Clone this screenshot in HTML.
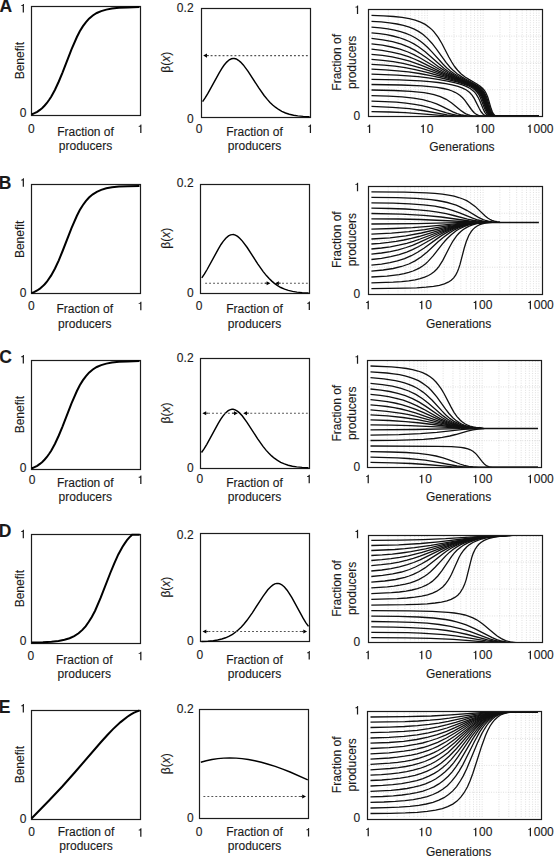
<!DOCTYPE html>
<html><head><meta charset="utf-8"><style>
html,body{margin:0;padding:0;background:#fff;}
svg{display:block;}
text{font-family:"Liberation Sans",sans-serif;fill:#1a1a1a;stroke:#1a1a1a;stroke-width:0.12px;}
</style></head><body>
<svg width="554" height="859" viewBox="0 0 554 859">
<text x="-0.5" y="12.3" font-size="17.5" font-weight="bold" fill="#000">A</text>
<rect x="31.5" y="6.5" width="109" height="109" fill="none" stroke="#1c1c1c" stroke-width="1.2"/>
<path d="M31.5,114.5L34.5,113.2L37.2,111.8L39.9,109.9L42.3,107.9L44.7,105.5L46.9,103L49,100L51.2,96.7L55,89.7L58.8,81.5L62.6,72.3L71.5,49.3L76.9,37L79.8,31.3L82.8,26.4L85.8,22.3L89,18.7L92.8,15.5L96.8,13L101.2,11.1L106.3,9.6L112,8.5L119,7.8L127.6,7.4L139.5,7.1" fill="none" stroke="#000" stroke-width="2"/>
<path d="M23.94,12.4L23.94,3.89L23.1,3.89L22.68,4.72L22.02,5.14L21.18,5.24L21.18,6.04L22.7,6.04L22.7,12.4Z" fill="#1a1a1a"/>
<text x="19.64" y="116.95" font-size="12">0</text>
<text x="28.04" y="132.7" font-size="12">0</text>
<path d="M141.44,133.1L141.44,124.59L140.6,124.59L140.18,125.42L139.52,125.84L138.68,125.94L138.68,126.74L140.2,126.74L140.2,133.1Z" fill="#1a1a1a"/>
<text transform="translate(23.8,60.7) rotate(-90)" font-size="12" text-anchor="middle">Benefit</text>
<text x="85.5" y="136.1" font-size="12" text-anchor="middle">Fraction of</text>
<text x="85.5" y="150.2" font-size="12" text-anchor="middle">producers</text>
<rect x="201.5" y="8.5" width="109" height="109" fill="none" stroke="#1c1c1c" stroke-width="1.2"/>
<path d="M202.6,101.6L205.3,97.7L207.9,93.4L219.2,72.8L221.9,68.4L224,65.3L226.7,62.1L229.3,59.8L231.5,58.8L233.1,58.5L234.2,58.5L236.3,59L238.4,60.3L240.6,62.1L243.3,64.9L248.1,71.4L258.8,87.9L264.1,95.5L267.3,99.4L270,102.4L272.7,105L275.4,107.2L278.6,109.5L281.8,111.3L285.5,113L289.3,114.2L293.6,115.2L297.8,115.9L303.2,116.4L309.6,116.7" fill="none" stroke="#000" stroke-width="1.45"/>
<path d="M307.8,55.6H209" stroke="#555" stroke-width="1.15" stroke-dasharray="1.9,2.07"/>
<path d="M203.2,55.6L207,53.55L207,57.65Z" fill="#000"/><path d="M206.62,55.6H208.8" stroke="#333" stroke-width="1.1"/>
<text x="176.87" y="11.8" font-size="12">0</text><text x="183.54" y="11.8" font-size="12">.</text><text x="186.88" y="11.8" font-size="12">2</text>
<text x="187.09" y="122.65" font-size="12">0</text>
<text x="195.74" y="132.65" font-size="12">0</text>
<path d="M311.04,133.05L311.04,124.54L310.2,124.54L309.78,125.37L309.12,125.79L308.28,125.89L308.28,126.69L309.8,126.69L309.8,133.05Z" fill="#1a1a1a"/>
<text transform="translate(170.3,62.2) rotate(-90)" font-size="12" text-anchor="middle">β(<tspan font-style="italic">x</tspan>)</text>
<text x="254.5" y="136.1" font-size="12" text-anchor="middle">Fraction of</text>
<text x="254.5" y="150.2" font-size="12" text-anchor="middle">producers</text>
<path d="M388.31,10.3V115.5M398.14,10.3V115.5M405.11,10.3V115.5M410.52,10.3V115.5M414.94,10.3V115.5M418.68,10.3V115.5M421.92,10.3V115.5M424.78,10.3V115.5M427.33,10.3V115.5M444.14,10.3V115.5M453.97,10.3V115.5M460.94,10.3V115.5M466.35,10.3V115.5M470.77,10.3V115.5M474.51,10.3V115.5M477.75,10.3V115.5M480.61,10.3V115.5M483.16,10.3V115.5M499.97,10.3V115.5M509.8,10.3V115.5M516.77,10.3V115.5M522.18,10.3V115.5M526.6,10.3V115.5M530.34,10.3V115.5M533.58,10.3V115.5M536.44,10.3V115.5M538.99,10.3V115.5M369.7,89.7H541.9M369.7,62.9H541.9M369.7,36.1H541.9" stroke="#cfcfcf" stroke-width="0.7" stroke-dasharray="0.9,1.5" fill="none"/>
<clipPath id="c3A"><rect x="369.1" y="10.1" width="172.8" height="105.8"/></clipPath><g clip-path="url(#c3A)">
<path d="M371.5,111.6L389.6,112L405.1,112.7L418.5,113.6L443.7,115.6L457.1,116.3L472.7,116.5L539,116.5" fill="none" stroke="#111" stroke-width="1.3"/>
<path d="M371.5,106.4L392.5,107.3L409.3,108.7L422.7,110.5L447.1,114.8L453.4,115.6L459.2,116.1L473.9,116.5L539,116.5" fill="none" stroke="#111" stroke-width="1.3"/>
<path d="M371.5,101.1L384.9,101.6L396.3,102.2L405.9,103.2L414.7,104.4L421.9,105.7L428.6,107.3L446.6,112.8L451.7,114.2L457.1,115.3L462.6,116L468.5,116.3L476,116.5L539,116.5" fill="none" stroke="#111" stroke-width="1.3"/>
<path d="M371.5,95.6L388.7,96.1L402.1,96.9L413.5,98.1L422.7,99.7L429.8,101.5L436.6,103.9L442,106.3L452.9,111.8L457.1,113.6L461.8,115L466.8,115.9L471.8,116.3L478.5,116.5L539,116.5" fill="none" stroke="#111" stroke-width="1.3"/>
<path d="M371.5,90L394.2,90.5L411,91.3L424,92.7L429.4,93.6L434,94.6L440.3,96.6L446.2,99.3L451.7,102.9L460.5,110.2L463.9,112.6L465.9,113.8L468,114.7L470.1,115.4L472.7,115.9L476.9,116.3L482.7,116.5L539,116.5" fill="none" stroke="#111" stroke-width="1.3"/>
<path d="M371.5,84.5L401.3,85L421.9,85.9L429.8,86.6L437,87.4L443.3,88.5L448.3,89.7L452.1,91L455,92.3L457.6,93.7L460.1,95.5L462.6,97.7L464.7,100.1L471.4,109.5L473.9,112.5L475.2,113.6L476.9,114.7L478.5,115.4L480.6,116L483.6,116.3L488.2,116.5L539,116.5" fill="none" stroke="#111" stroke-width="1.3"/>
<path d="M371.5,79.3L399.2,79.8L420.6,80.8L429.8,81.6L438.2,82.5L445.8,83.6L452.1,84.8L458,86.4L462.6,88.1L466.4,90L469.7,92.6L472.2,95.4L474.3,98.6L479.4,108.8L481.1,111.8L483.2,114.2L484.4,115.1L485.7,115.7L488.2,116.3L492.4,116.5L539,116.5" fill="none" stroke="#111" stroke-width="1.3"/>
<path d="M371.5,74.2L397.1,75.1L408,75.8L418.1,76.7L428.2,77.9L437.8,79.4L447.5,81.1L455.5,82.9L461.8,84.7L466.8,86.7L470.6,88.7L473.9,91.4L476,93.9L478.1,97.3L479.8,100.8L483.2,109.1L484.8,112.3L486.5,114.4L488.6,115.7L490.7,116.3L494.5,116.5L539,116.5" fill="none" stroke="#111" stroke-width="1.3"/>
<path d="M371.5,69.2L385.4,69.8L397.5,70.8L408.4,71.9L419.4,73.5L431.9,75.9L445.8,79L458,82.2L465.9,84.8L469.7,86.5L472.7,88.2L475.2,90.2L477.3,92.5L479,94.9L480.6,98.2L484.8,109L486.5,112.4L487.4,113.7L488.6,114.9L490.7,116L492.8,116.3L496.2,116.5L539,116.5" fill="none" stroke="#111" stroke-width="1.3"/>
<path d="M371.5,64.3L384.1,65.1L395,66.2L405.1,67.7L415.2,69.6L426.9,72.4L442,76.5L459.7,81.8L468,84.8L471.4,86.4L474.3,88.3L476.4,90L478.5,92.3L480.2,94.9L481.9,98.3L485.7,108.5L487.4,112.3L489,114.5L490.3,115.5L491.6,116L493.7,116.4L497,116.5L539,116.5" fill="none" stroke="#111" stroke-width="1.3"/>
<path d="M371.5,59.3L382.8,60.3L393.3,61.7L403,63.4L412.2,65.6L420.2,67.8L429,70.7L462.6,82.1L470.1,85.1L473.5,86.9L476,88.7L478.1,90.7L479.8,92.8L481.5,95.6L482.7,98.3L486.5,108.9L487.8,111.8L488.6,113.3L489.9,114.7L490.7,115.4L492,116L494.1,116.4L497.4,116.5L539,116.5" fill="none" stroke="#111" stroke-width="1.3"/>
<path d="M371.5,54.3L382.4,55.4L392.1,56.9L400.9,58.8L409.7,61.2L421.5,65.4L444.1,74.7L465.5,82.7L471.8,85.4L474.8,87.1L476.9,88.7L479,90.7L480.6,92.9L482.3,95.9L483.6,98.8L486.9,108.5L488.2,111.6L489,113.1L490.3,114.7L491.1,115.3L492.4,115.9L494.5,116.4L497.9,116.5L539,116.5" fill="none" stroke="#111" stroke-width="1.3"/>
<path d="M371.5,49.2L382,50.4L391.6,52.1L400.5,54.2L408.4,56.7L414.3,59L420.2,61.6L439.1,71.1L446.6,74.6L454.2,77.8L467.6,83L473.1,85.6L476,87.4L478.1,89.2L479.8,90.9L481.5,93.3L482.7,95.6L484,98.5L487.4,108.3L488.6,111.5L490.3,114.2L491.1,115.1L492.4,115.8L494.5,116.3L497.9,116.5L539,116.5" fill="none" stroke="#111" stroke-width="1.3"/>
<path d="M371.5,43.9L382.4,45.2L391.6,47L400,49.2L408,52L413.9,54.6L419.8,57.7L439.1,69.3L447.1,73.7L455.5,77.6L469.7,83.5L474.3,85.9L476.4,87.2L478.5,88.9L480.2,90.7L481.9,93L483.2,95.3L484.4,98.2L487.8,108.2L489,111.5L490.7,114.3L491.6,115.1L492.8,115.8L494.9,116.3L497.9,116.5L539,116.5" fill="none" stroke="#111" stroke-width="1.3"/>
<path d="M371.5,38.4L382.8,39.8L392.5,41.7L401.3,44.2L409.3,47.4L415.2,50.4L421,54L426.5,57.8L439.5,67.4L447.9,72.8L455.5,76.8L470.6,83.5L475.6,86.2L477.7,87.6L479.8,89.5L481.5,91.5L482.7,93.5L484,95.9L485.3,99.1L488.2,108.1L489.5,111.4L491.1,114.3L492.8,115.6L494.9,116.3L497.9,116.5L539,116.5" fill="none" stroke="#111" stroke-width="1.3"/>
<path d="M371.5,32.8L379.5,33.7L386.6,34.7L392.9,36L398.8,37.5L404.2,39.3L409.3,41.5L413.9,43.9L418.5,46.8L425.2,51.8L440.8,65.6L444.5,68.7L448.3,71.5L452.9,74.4L457.6,77L473.9,84.7L476.9,86.5L479.4,88.4L481.9,91.2L484,94.7L485.7,98.7L488.6,108L489.9,111.4L491.6,114.3L493.2,115.7L495.3,116.3L498.3,116.5L539,116.5" fill="none" stroke="#111" stroke-width="1.3"/>
<path d="M371.5,27.1L380.3,27.9L387.9,28.9L394.6,30.1L400.5,31.6L405.9,33.4L411,35.5L415.6,38L419.8,40.7L423.6,43.7L427.7,47.5L431.9,51.9L442.9,64L446.6,67.7L450.4,70.9L454.6,74L459.2,76.8L475.6,85.1L478.5,87.1L480.6,88.9L483.2,92L485.3,96L486.9,100.6L489.5,108.8L490.7,112.1L492,114.2L493.7,115.6L495.8,116.3L498.7,116.5L539,116.5" fill="none" stroke="#111" stroke-width="1.3"/>
<path d="M371.5,21.3L381.2,21.9L389.6,22.8L397.1,24L403.4,25.3L409.3,27.1L414.3,29.1L418.9,31.6L423.1,34.5L427.7,38.6L431.9,43.2L436.1,48.6L446.2,62.7L450,67.2L453.4,70.6L457.1,73.8L461.8,76.9L465.9,79.3L474.3,83.7L477.7,85.7L480.2,87.6L482.3,89.6L484.4,92.6L486.1,96.1L487.4,99.5L490.3,109.3L491.6,112.4L492.8,114.5L494.1,115.5L496.2,116.3L499.1,116.5L539,116.5" fill="none" stroke="#111" stroke-width="1.3"/>
<path d="M371.5,15.3L383.7,15.8L393.7,16.5L402.1,17.4L409.3,18.6L415.2,20.1L420.6,22.1L425.2,24.4L429.4,27.4L431.9,29.6L434,31.9L438.2,37.4L442,43.7L448.7,56.7L451.7,62L454.6,66.5L457.6,70.2L460.9,73.7L465.1,77L468.9,79.4L476.9,84L480.2,86.2L482.7,88.5L484.4,90.5L486.1,93.2L487.8,97.2L491.1,108.6L492.4,112.1L493.7,114.3L494.9,115.5L497,116.3L500,116.5L539,116.5" fill="none" stroke="#111" stroke-width="1.3"/>
</g>
<rect x="368.5" y="9.5" width="174" height="107" fill="none" stroke="#1c1c1c" stroke-width="1.2"/>
<path d="M358.14,13.95L358.14,5.44L357.3,5.44L356.88,6.27L356.22,6.69L355.38,6.79L355.38,7.59L356.9,7.59L356.9,13.95Z" fill="#1a1a1a"/>
<text x="353.54" y="119.7" font-size="12">0</text>
<path d="M370.19,133.05L370.19,124.54L369.35,124.54L368.93,125.37L368.27,125.79L367.43,125.89L367.43,126.69L368.95,126.69L368.95,133.05Z" fill="#1a1a1a"/>
<path d="M423.87,133.05L423.87,124.54L423.03,124.54L422.61,125.37L421.95,125.79L421.11,125.89L421.11,126.69L422.64,126.69L422.64,133.05Z" fill="#1a1a1a"/><text x="426.65" y="133.05" font-size="12">0</text>
<path d="M478.54,133.05L478.54,124.54L477.7,124.54L477.28,125.37L476.62,125.79L475.78,125.89L475.78,126.69L477.3,126.69L477.3,133.05Z" fill="#1a1a1a"/><text x="481.31" y="133.05" font-size="12">0</text><text x="487.98" y="133.05" font-size="12">0</text>
<path d="M530.7,133.05L530.7,124.54L529.86,124.54L529.44,125.37L528.78,125.79L527.94,125.89L527.94,126.69L529.47,126.69L529.47,133.05Z" fill="#1a1a1a"/><text x="533.47" y="133.05" font-size="12">0</text><text x="540.15" y="133.05" font-size="12">0</text><text x="546.82" y="133.05" font-size="12">0</text>
<text transform="translate(341.2,62.3) rotate(-90)" font-size="12" text-anchor="middle">Fraction of</text>
<text transform="translate(355.5,62.3) rotate(-90)" font-size="12" text-anchor="middle">producers</text>
<text x="461.9" y="151.2" font-size="12" text-anchor="middle">Generations</text>
<text x="-1.2" y="188.7" font-size="17.5" font-weight="bold" fill="#000">B</text>
<rect x="31.5" y="184.5" width="109" height="109" fill="none" stroke="#1c1c1c" stroke-width="1.2"/>
<path d="M31.5,293.2L34.5,291.9L37.2,290.5L39.9,288.7L42.3,286.6L44.7,284.2L46.9,281.7L51.2,275.4L55,268.5L58.8,260.3L62.6,251L71.5,228.1L76.9,215.8L79.8,210.1L82.8,205.2L85.8,201.1L89,197.5L92.8,194.3L96.8,191.8L101.2,189.9L106.3,188.3L112,187.3L119,186.6L127.6,186.2L139.5,185.9" fill="none" stroke="#000" stroke-width="2"/>
<path d="M23.94,186.8L23.94,178.29L23.1,178.29L22.68,179.12L22.02,179.54L21.18,179.64L21.18,180.44L22.7,180.44L22.7,186.8Z" fill="#1a1a1a"/>
<text x="19.64" y="297.3" font-size="12">0</text>
<text x="28.04" y="309.8" font-size="12">0</text>
<path d="M141.44,310.2L141.44,301.69L140.6,301.69L140.18,302.52L139.52,302.94L138.68,303.04L138.68,303.84L140.2,303.84L140.2,310.2Z" fill="#1a1a1a"/>
<text transform="translate(23.8,239.45) rotate(-90)" font-size="12" text-anchor="middle">Benefit</text>
<text x="84.8" y="313.4" font-size="12" text-anchor="middle">Fraction of</text>
<text x="84.8" y="327.5" font-size="12" text-anchor="middle">producers</text>
<rect x="200.5" y="184.5" width="109" height="109" fill="none" stroke="#1c1c1c" stroke-width="1.2"/>
<path d="M201.8,277.8L204.5,273.9L207.1,269.5L218.4,248.9L221,244.5L223.2,241.4L225.8,238.2L228.5,235.9L230.6,234.9L232.2,234.6L233.3,234.5L235.4,235.1L237.6,236.4L239.7,238.2L242.4,241.1L247.2,247.5L257.9,264.1L263.2,271.6L266.4,275.6L269.1,278.5L271.8,281.1L274.4,283.4L277.6,285.6L280.8,287.5L284.6,289.1L288.3,290.4L292.6,291.4L296.9,292.1L302.2,292.6L308.6,292.9" fill="none" stroke="#000" stroke-width="1.45"/>
<path d="M266.6,283.2H203" stroke="#555" stroke-width="1.15" stroke-dasharray="1.9,2.07"/>
<path d="M307.8,283.2H279.5" stroke="#555" stroke-width="1.15" stroke-dasharray="1.9,2.07"/>
<path d="M270.4,283.2L266.6,281.15L266.6,285.25Z" fill="#000"/><path d="M266.98,283.2H264.8" stroke="#333" stroke-width="1.1"/>
<path d="M275.1,283.2L278.9,281.15L278.9,285.25Z" fill="#000"/><path d="M278.52,283.2H280.7" stroke="#333" stroke-width="1.1"/>
<text x="176.87" y="187.2" font-size="12">0</text><text x="183.54" y="187.2" font-size="12">.</text><text x="186.88" y="187.2" font-size="12">2</text>
<text x="187.09" y="296.7" font-size="12">0</text>
<text x="195.74" y="309.65" font-size="12">0</text>
<path d="M309.94,310.05L309.94,301.54L309.1,301.54L308.68,302.37L308.02,302.79L307.18,302.89L307.18,303.69L308.7,303.69L308.7,310.05Z" fill="#1a1a1a"/>
<text transform="translate(170.3,238.3) rotate(-90)" font-size="12" text-anchor="middle">β(<tspan font-style="italic">x</tspan>)</text>
<text x="254.5" y="313.4" font-size="12" text-anchor="middle">Fraction of</text>
<text x="254.5" y="327.5" font-size="12" text-anchor="middle">producers</text>
<path d="M388.21,187.3V293.2M398.04,187.3V293.2M405.01,187.3V293.2M410.42,187.3V293.2M414.84,187.3V293.2M418.58,187.3V293.2M421.82,187.3V293.2M424.68,187.3V293.2M427.23,187.3V293.2M444.04,187.3V293.2M453.87,187.3V293.2M460.84,187.3V293.2M466.25,187.3V293.2M470.67,187.3V293.2M474.41,187.3V293.2M477.65,187.3V293.2M480.51,187.3V293.2M483.06,187.3V293.2M499.87,187.3V293.2M509.7,187.3V293.2M516.67,187.3V293.2M522.08,187.3V293.2M526.5,187.3V293.2M530.24,187.3V293.2M533.48,187.3V293.2M536.34,187.3V293.2M538.89,187.3V293.2M369.6,267.23H541.5M369.6,240.25H541.5M369.6,213.28H541.5" stroke="#cfcfcf" stroke-width="0.7" stroke-dasharray="0.9,1.5" fill="none"/>
<clipPath id="c3B"><rect x="369.1" y="187.1" width="172.8" height="106.8"/></clipPath><g clip-path="url(#c3B)">
<path d="M371.4,288.7L405.4,288.2L416.7,287.8L426,287.2L433.5,286.3L439.4,285.3L444.4,283.9L448.2,282.2L451.2,280.3L453.7,277.9L455.8,274.9L457.5,271.6L458.7,268.4L460,264.4L464.2,248.3L466.3,241.5L468.8,235.5L471.3,231.4L473,229.4L475.1,227.4L477.2,226L479.7,224.7L482.2,223.8L485.2,223.1L492.3,222.4" fill="none" stroke="#111" stroke-width="1.3"/>
<path d="M371.4,282.9L393.2,282.2L401.6,281.6L408.8,280.8L415.1,279.8L420.1,278.7L424.7,277.2L428.5,275.5L431.4,273.8L434.4,271.5L436.9,269L439,266.4L442.8,260.4L449.5,247.2L452.8,241.3L456.6,235.9L458.7,233.5L460.8,231.5L463.3,229.5L466.3,227.6L469.2,226.1L472.6,224.8L475.9,223.9L479.7,223.2L483.9,222.7L488.5,222.4" fill="none" stroke="#111" stroke-width="1.3"/>
<path d="M371.4,277L386.9,276.1L399.1,274.6L404.1,273.6L408.8,272.4L413,271L416.7,269.4L419.7,267.9L422.6,266L425.6,263.7L428.1,261.4L433.1,255.9L442.3,244.1L446.5,239.3L451.2,234.7L456.2,230.8L459.1,229L462.5,227.3L465.8,225.9L469.6,224.7L473.4,223.8L477.6,223.1L486.8,222.4" fill="none" stroke="#111" stroke-width="1.3"/>
<path d="M371.4,271.1L383.2,270L393.2,268.5L401.6,266.5L408.8,264L415.1,260.9L421.4,256.7L427.2,251.9L438.1,241.8L443.2,237.4L449.1,233.1L454.5,229.8L457.9,228.1L461.7,226.6L468.8,224.4L476.8,223L486,222.4" fill="none" stroke="#111" stroke-width="1.3"/>
<path d="M371.4,265.2L381.5,264.1L389.9,262.7L397.4,260.9L404.6,258.6L411.3,255.7L417.6,252.3L423.9,248.2L436.5,239.1L441.9,235.4L447.8,231.9L453.7,229L460.8,226.2L468.4,224.2L476.3,223L485.2,222.4" fill="none" stroke="#111" stroke-width="1.3"/>
<path d="M371.4,259.5L381.5,258.3L390.7,256.7L399.1,254.6L406.7,252.1L412.5,249.6L418.8,246.5L437.7,235.8L444.4,232.2L451.2,229.1L457.5,226.8L463.8,225L470,223.7L476.8,222.9L484.7,222.4" fill="none" stroke="#111" stroke-width="1.3"/>
<path d="M371.4,254.2L381.5,253L390.3,251.6L398.3,249.8L406.2,247.5L412.5,245.3L418.8,242.7L438.6,233.5L445.3,230.6L451.6,228.2L457.9,226.2L463.8,224.7L470,223.6L476.8,222.8L483.9,222.4" fill="none" stroke="#111" stroke-width="1.3"/>
<path d="M371.4,249L381.5,248L390.3,246.8L398.7,245.2L406.7,243.3L413.4,241.3L420.1,239L446.5,229.1L452.8,227.1L459.1,225.4L465,224.2L470.9,223.3L476.8,222.7L483.5,222.4" fill="none" stroke="#111" stroke-width="1.3"/>
<path d="M371.4,244L380.2,243.3L388.6,242.4L396.2,241.4L403.7,240L411.3,238.4L418.8,236.5L445.7,228.4L456.6,225.5L462.9,224.3L469.2,223.4L475.5,222.8L482.6,222.4" fill="none" stroke="#111" stroke-width="1.3"/>
<path d="M371.4,239L389.9,237.8L405.8,235.9L421.4,233L447.4,226.9L457.9,224.8L469.6,223.2L481.8,222.4" fill="none" stroke="#111" stroke-width="1.3"/>
<path d="M371.4,234.1L391.5,233.2L408.8,231.7L424.7,229.6L449.9,225.4L459.1,224.1L469.6,223L480.5,222.4" fill="none" stroke="#111" stroke-width="1.3"/>
<path d="M371.4,229.1L393.6,228.5L412.5,227.6L428.5,226.4L460,223.4L468.8,222.7L477.6,222.4" fill="none" stroke="#111" stroke-width="1.3"/>
<path d="M371.4,224L416.7,223.6L467.1,222.4" fill="none" stroke="#111" stroke-width="1.3"/>
<path d="M371.4,218.8L398.7,219L420.1,219.5L475.1,222" fill="none" stroke="#111" stroke-width="1.3"/>
<path d="M371.4,213.5L401.6,214.1L423.9,215.3L441.1,217L469.6,221L476.3,221.6L483.5,222" fill="none" stroke="#111" stroke-width="1.3"/>
<path d="M371.4,208.2L390.3,208.5L405.4,209L418,209.8L428.9,210.9L437.7,212.1L446.1,213.7L453.7,215.5L467.5,219.1L473.8,220.5L480.5,221.5L487.7,222" fill="none" stroke="#111" stroke-width="1.3"/>
<path d="M371.4,202.8L393.2,203.1L410,203.8L423.5,204.8L434.8,206.2L444,208L452.4,210.4L459.6,212.9L472.6,218.2L478,220L484.3,221.3L491.5,222" fill="none" stroke="#111" stroke-width="1.3"/>
<path d="M371.4,197.3L397.4,197.7L416.3,198.4L431,199.7L437.3,200.5L442.8,201.5L447.4,202.5L452,203.8L456.2,205.2L460,206.8L466.7,210.3L478.4,217.4L483.1,219.6L485.6,220.5L488.5,221.2L491.5,221.7L495.2,222" fill="none" stroke="#111" stroke-width="1.3"/>
<path d="M371.4,191.8L404.6,192.2L426.4,192.9L434.8,193.4L442.3,194.2L448.6,195.1L454.1,196.2L458.7,197.5L462.9,199L466.7,200.7L470,202.7L475.1,206.4L485.2,215.9L487.7,218L489.8,219.3L491.9,220.4L494.4,221.2L496.9,221.7L499.9,222" fill="none" stroke="#111" stroke-width="1.3"/>
<path d="M467.11,222.5H538.89" stroke="#111" stroke-width="1.3"/>
</g>
<rect x="368.5" y="186.5" width="174" height="108" fill="none" stroke="#1c1c1c" stroke-width="1.2"/>
<path d="M358.14,191.15L358.14,182.64L357.3,182.64L356.88,183.47L356.22,183.89L355.38,183.99L355.38,184.79L356.9,184.79L356.9,191.15Z" fill="#1a1a1a"/>
<text x="353.54" y="298.3" font-size="12">0</text>
<path d="M368.84,309.3L368.84,300.79L368,300.79L367.58,301.62L366.92,302.04L366.08,302.14L366.08,302.94L367.6,302.94L367.6,309.3Z" fill="#1a1a1a"/>
<path d="M422.37,309.3L422.37,300.79L421.53,300.79L421.11,301.62L420.45,302.04L419.61,302.14L419.61,302.94L421.14,302.94L421.14,309.3Z" fill="#1a1a1a"/><text x="425.15" y="309.3" font-size="12">0</text>
<path d="M476.34,309.3L476.34,300.79L475.5,300.79L475.08,301.62L474.42,302.04L473.58,302.14L473.58,302.94L475.1,302.94L475.1,309.3Z" fill="#1a1a1a"/><text x="479.11" y="309.3" font-size="12">0</text><text x="485.78" y="309.3" font-size="12">0</text>
<path d="M531,309.3L531,300.79L530.16,300.79L529.74,301.62L529.08,302.04L528.24,302.14L528.24,302.94L529.77,302.94L529.77,309.3Z" fill="#1a1a1a"/><text x="533.77" y="309.3" font-size="12">0</text><text x="540.45" y="309.3" font-size="12">0</text><text x="547.12" y="309.3" font-size="12">0</text>
<text transform="translate(341.2,239.65) rotate(-90)" font-size="12" text-anchor="middle">Fraction of</text>
<text transform="translate(355.5,239.65) rotate(-90)" font-size="12" text-anchor="middle">producers</text>
<text x="458.6" y="328" font-size="12" text-anchor="middle">Generations</text>
<text x="-0.7" y="362.6" font-size="17.5" font-weight="bold" fill="#000">C</text>
<rect x="31.5" y="360.5" width="109" height="109" fill="none" stroke="#1c1c1c" stroke-width="1.2"/>
<path d="M31.5,468.5L34.5,467.2L37.2,465.8L39.9,463.9L42.3,461.9L44.7,459.5L46.9,457L49,454L51.2,450.7L55,443.7L58.8,435.5L62.6,426.3L71.5,403.3L76.9,391L79.8,385.3L82.8,380.4L85.8,376.3L89,372.7L92.8,369.5L96.8,367L101.2,365.1L106.3,363.6L112,362.5L119,361.8L127.6,361.4L139.5,361.1" fill="none" stroke="#000" stroke-width="2"/>
<path d="M23.94,363.5L23.94,354.99L23.1,354.99L22.68,355.82L22.02,356.24L21.18,356.34L21.18,357.14L22.7,357.14L22.7,363.5Z" fill="#1a1a1a"/>
<text x="19.64" y="471.8" font-size="12">0</text>
<text x="28.74" y="483.6" font-size="12">0</text>
<path d="M141.44,484L141.44,475.49L140.6,475.49L140.18,476.32L139.52,476.74L138.68,476.84L138.68,477.64L140.2,477.64L140.2,484Z" fill="#1a1a1a"/>
<text transform="translate(23.8,414.7) rotate(-90)" font-size="12" text-anchor="middle">Benefit</text>
<text x="85.3" y="487.3" font-size="12" text-anchor="middle">Fraction of</text>
<text x="85.3" y="500.8" font-size="12" text-anchor="middle">producers</text>
<rect x="200.5" y="358.5" width="109" height="110" fill="none" stroke="#1c1c1c" stroke-width="1.2"/>
<path d="M201.5,452.5L204.2,448.7L206.8,444.3L218.1,423.7L220.8,419.2L222.9,416.1L225.6,412.9L228.2,410.7L230.4,409.6L232,409.3L233.1,409.3L235.2,409.9L237.3,411.1L239.5,412.9L242.2,415.8L247,422.3L257.7,438.9L263,446.4L266.2,450.4L268.9,453.3L271.6,455.9L274.3,458.2L277.5,460.4L280.7,462.3L284.4,463.9L288.2,465.2L292.4,466.2L296.7,466.9L302.1,467.4L308.5,467.7" fill="none" stroke="#000" stroke-width="1.45"/>
<path d="M233.8,413.2H208" stroke="#555" stroke-width="1.15" stroke-dasharray="1.9,2.07"/>
<path d="M307.8,413.2H247.6" stroke="#555" stroke-width="1.15" stroke-dasharray="1.9,2.07"/>
<path d="M202.4,413.2L206.2,411.15L206.2,415.25Z" fill="#000"/><path d="M205.82,413.2H208" stroke="#333" stroke-width="1.1"/>
<path d="M237.8,413.2L234,411.15L234,415.25Z" fill="#000"/><path d="M234.38,413.2H232.2" stroke="#333" stroke-width="1.1"/>
<path d="M243.2,413.2L247,411.15L247,415.25Z" fill="#000"/><path d="M246.62,413.2H248.8" stroke="#333" stroke-width="1.1"/>
<text x="176.87" y="361.95" font-size="12">0</text><text x="183.54" y="361.95" font-size="12">.</text><text x="186.88" y="361.95" font-size="12">2</text>
<text x="187.09" y="471.5" font-size="12">0</text>
<text x="196.44" y="482.9" font-size="12">0</text>
<path d="M309.84,483.3L309.84,474.79L309,474.79L308.58,475.62L307.92,476.04L307.08,476.14L307.08,476.94L308.6,476.94L308.6,483.3Z" fill="#1a1a1a"/>
<text transform="translate(170.3,413.05) rotate(-90)" font-size="12" text-anchor="middle">β(<tspan font-style="italic">x</tspan>)</text>
<text x="254.5" y="487.3" font-size="12" text-anchor="middle">Fraction of</text>
<text x="254.5" y="500.8" font-size="12" text-anchor="middle">producers</text>
<path d="M387.31,361.1V466.5M397.14,361.1V466.5M404.11,361.1V466.5M409.52,361.1V466.5M413.94,361.1V466.5M417.68,361.1V466.5M420.92,361.1V466.5M423.78,361.1V466.5M426.33,361.1V466.5M443.14,361.1V466.5M452.97,361.1V466.5M459.94,361.1V466.5M465.35,361.1V466.5M469.77,361.1V466.5M473.51,361.1V466.5M476.75,361.1V466.5M479.61,361.1V466.5M482.16,361.1V466.5M498.97,361.1V466.5M508.8,361.1V466.5M515.77,361.1V466.5M521.18,361.1V466.5M525.6,361.1V466.5M529.34,361.1V466.5M532.58,361.1V466.5M535.44,361.1V466.5M537.99,361.1V466.5M368.7,440.65H540.5M368.7,413.8H540.5M368.7,386.95H540.5" stroke="#cfcfcf" stroke-width="0.7" stroke-dasharray="0.9,1.5" fill="none"/>
<clipPath id="c3C"><rect x="368.1" y="361.1" width="172.8" height="105.8"/></clipPath><g clip-path="url(#c3C)">
<path d="M370.5,462.4L393.2,462.8L411.2,463.5L425.9,464.5L451.5,466.6L464.1,467.3L479.2,467.5L538,467.5" fill="none" stroke="#111" stroke-width="1.3"/>
<path d="M370.5,457.1L397.4,457.9L407.9,458.5L417.5,459.3L425.1,460.2L432.6,461.3L457,466L462.4,466.7L467.9,467.1L481.3,467.5L538,467.5" fill="none" stroke="#111" stroke-width="1.3"/>
<path d="M370.5,451.6L390.6,452L406.2,452.5L418.4,453.4L428.4,454.6L436,456L443.1,457.8L449,459.8L459.9,464L464.1,465.3L468.7,466.4L473.3,467L478.4,467.4L484.7,467.5L538,467.5" fill="none" stroke="#111" stroke-width="1.3"/>
<path d="M370.5,446L437.7,446.3L451.5,446.7L460.8,447.4L464.5,448L467.9,448.9L470.4,449.8L472.9,451.3L475,452.9L476.7,454.6L482.2,461.7L484.3,464L486.8,465.9L489.3,466.9L492.2,467.3L496.4,467.5L538,467.5" fill="none" stroke="#111" stroke-width="1.3"/>
<path d="M370.5,440.5L393.6,440.3L410.4,439.9L423.8,439.3L434.3,438.5L442.3,437.4L449.8,436L455.7,434.5L467.5,431.1L472.9,429.8L478.4,429L484.3,428.6" fill="none" stroke="#111" stroke-width="1.3"/>
<path d="M370.5,435.1L399,434.6L420.5,433.7L436.8,432.4L463.7,429.4L476.3,428.6" fill="none" stroke="#111" stroke-width="1.3"/>
<path d="M370.5,429.8L414.6,429.5L460.3,428.6" fill="none" stroke="#111" stroke-width="1.3"/>
<path d="M370.5,424.8L391.9,425.1L410,425.6L453.2,427.7L467,428.2" fill="none" stroke="#111" stroke-width="1.3"/>
<path d="M370.5,419.8L389.4,420.5L405.8,421.6L420.5,423L452.8,427L462.4,427.7L472.5,428.2" fill="none" stroke="#111" stroke-width="1.3"/>
<path d="M370.5,414.9L387.7,415.9L402.8,417.5L417.5,419.7L442.3,424.6L451.9,426.2L462.9,427.5L474.6,428.2" fill="none" stroke="#111" stroke-width="1.3"/>
<path d="M370.5,409.9L386.9,411.3L401.6,413.3L408.7,414.7L416.3,416.4L441,423.1L451.1,425.5L457,426.5L462.9,427.3L469.1,427.9L475.9,428.2" fill="none" stroke="#111" stroke-width="1.3"/>
<path d="M370.5,404.9L378.9,405.6L386.9,406.5L394,407.6L401.1,409L408.3,410.8L415.4,412.9L440.2,421.6L450.7,424.8L456.6,426.1L462.9,427.1L469.6,427.8L476.7,428.2" fill="none" stroke="#111" stroke-width="1.3"/>
<path d="M370.5,399.7L379.3,400.6L387.3,401.7L394.8,403L401.6,404.6L408.7,406.8L415.8,409.3L423,412.4L440.2,420.2L445.2,422.2L450.3,424L456.6,425.7L462.9,426.9L469.6,427.7L477.5,428.2" fill="none" stroke="#111" stroke-width="1.3"/>
<path d="M370.5,394.4L380.2,395.4L388.6,396.7L396.1,398.3L403.2,400.2L410.4,402.8L417.1,405.8L423.8,409.3L440.6,418.8L445.6,421.2L450.7,423.3L457,425.3L463.3,426.7L470.4,427.7L478.4,428.2" fill="none" stroke="#111" stroke-width="1.3"/>
<path d="M370.5,389L381,390.1L389.8,391.5L397.8,393.3L405.3,395.6L412.5,398.6L419.2,402.1L425.9,406.4L441.9,417.5L446.9,420.5L451.5,422.7L457.8,425.1L464.1,426.6L471.2,427.7L479.2,428.2" fill="none" stroke="#111" stroke-width="1.3"/>
<path d="M370.5,383.4L382.3,384.6L392.3,386.2L401.1,388.3L408.7,391L415.8,394.4L422.6,398.7L428.4,403.2L443.1,415.9L447.7,419.2L452.4,422L458.2,424.6L464.5,426.4L471.7,427.6L480.1,428.2" fill="none" stroke="#111" stroke-width="1.3"/>
<path d="M370.5,377.7L383.9,378.9L395.3,380.6L399.9,381.6L404.5,382.9L408.7,384.3L412.5,385.9L416.3,387.7L419.6,389.7L423,392.1L426.3,394.8L432.2,400.3L441.9,410.9L445.6,414.7L449.8,418.4L454,421.4L459.5,424.2L462.4,425.3L465.8,426.3L472.5,427.6L480.9,428.2" fill="none" stroke="#111" stroke-width="1.3"/>
<path d="M370.5,371.9L386.9,373L393.6,373.8L399.5,374.7L404.9,375.9L410,377.3L414.2,378.8L418.4,380.7L421.7,382.6L425.1,384.9L428.4,387.6L431.4,390.5L436.8,396.9L445.6,409.2L449,413.5L452.8,417.7L456.6,420.9L459.1,422.6L461.6,424L464.1,425.1L467,426.1L470.4,427L473.8,427.5L481.7,428.2" fill="none" stroke="#111" stroke-width="1.3"/>
<path d="M370.5,366L391.5,366.9L399.5,367.6L406.6,368.5L412.5,369.6L417.9,371L422.6,372.6L426.7,374.6L430.1,376.8L433,379.1L436,382L438.9,385.6L441.4,389.2L444,393.5L451.1,407.1L454,412.3L457,416.6L460.3,420.3L462.4,422.1L464.9,423.8L467.5,425.1L470,426.1L472.9,426.9L475.9,427.5L483.4,428.2" fill="none" stroke="#111" stroke-width="1.3"/>
<path d="M460.33,428.5H537.99" stroke="#111" stroke-width="1.3"/>
</g>
<rect x="367.5" y="360.5" width="174" height="107" fill="none" stroke="#1c1c1c" stroke-width="1.2"/>
<path d="M358.14,363.7L358.14,355.19L357.3,355.19L356.88,356.02L356.22,356.44L355.38,356.54L355.38,357.34L356.9,357.34L356.9,363.7Z" fill="#1a1a1a"/>
<text x="353.54" y="471" font-size="12">0</text>
<path d="M368.84,483.2L368.84,474.69L368,474.69L367.58,475.52L366.92,475.94L366.08,476.04L366.08,476.84L367.6,476.84L367.6,483.2Z" fill="#1a1a1a"/>
<path d="M422.37,483.2L422.37,474.69L421.53,474.69L421.11,475.52L420.45,475.94L419.61,476.04L419.61,476.84L421.14,476.84L421.14,483.2Z" fill="#1a1a1a"/><text x="425.15" y="483.2" font-size="12">0</text>
<path d="M476.34,483.2L476.34,474.69L475.5,474.69L475.08,475.52L474.42,475.94L473.58,476.04L473.58,476.84L475.1,476.84L475.1,483.2Z" fill="#1a1a1a"/><text x="479.11" y="483.2" font-size="12">0</text><text x="485.78" y="483.2" font-size="12">0</text>
<path d="M531,483.2L531,474.69L530.16,474.69L529.74,475.52L529.08,475.94L528.24,476.04L528.24,476.84L529.77,476.84L529.77,483.2Z" fill="#1a1a1a"/><text x="533.77" y="483.2" font-size="12">0</text><text x="540.45" y="483.2" font-size="12">0</text><text x="547.12" y="483.2" font-size="12">0</text>
<text transform="translate(341.2,413.2) rotate(-90)" font-size="12" text-anchor="middle">Fraction of</text>
<text transform="translate(355.5,413.2) rotate(-90)" font-size="12" text-anchor="middle">producers</text>
<text x="458.6" y="501" font-size="12" text-anchor="middle">Generations</text>
<text x="-1.2" y="536.7" font-size="17.5" font-weight="bold" fill="#000">D</text>
<rect x="31.5" y="534.5" width="109" height="109" fill="none" stroke="#1c1c1c" stroke-width="1.2"/>
<path d="M31.5,642.5L42.9,642.2L51.5,641.7L58.5,640.9L64.5,639.8L69.6,638.2L74.2,636.1L78.6,633.3L82.4,629.9L85.6,626.3L88.8,621.8L91.8,616.9L95.1,610.7L100.7,597.7L110.5,572.5L114.3,563.3L118.3,554.4L122.4,546.9L124.6,543.6L127,540.2L129.4,537.4L131.9,535L132.1,534.8L139.7,534.8" fill="none" stroke="#000" stroke-width="2"/>
<path d="M23.94,538.3L23.94,529.79L23.1,529.79L22.68,530.62L22.02,531.04L21.18,531.14L21.18,531.94L22.7,531.94L22.7,538.3Z" fill="#1a1a1a"/>
<text x="19.64" y="644.65" font-size="12">0</text>
<text x="27.44" y="659.8" font-size="12">0</text>
<path d="M141.44,660.2L141.44,651.69L140.6,651.69L140.18,652.52L139.52,652.94L138.68,653.04L138.68,653.84L140.2,653.84L140.2,660.2Z" fill="#1a1a1a"/>
<text transform="translate(23.8,588.7) rotate(-90)" font-size="12" text-anchor="middle">Benefit</text>
<text x="84.3" y="663.5" font-size="12" text-anchor="middle">Fraction of</text>
<text x="84.3" y="677.6" font-size="12" text-anchor="middle">producers</text>
<rect x="200.5" y="533.5" width="109" height="108" fill="none" stroke="#1c1c1c" stroke-width="1.2"/>
<path d="M201.5,641.5L207.9,641.2L213.3,640.7L217.6,640L221.8,639L225.6,637.8L229.3,636.1L232.5,634.3L235.7,632L238.4,629.8L241.1,627.2L243.8,624.3L247,620.3L252.3,612.8L263,596.3L267.8,589.8L270.5,587L272.7,585.2L274.8,583.9L276.9,583.4L278,583.4L279.6,583.7L281.8,584.8L284.4,587L287.1,590.2L289.2,593.3L291.9,597.7L303.1,618.2L305.8,622.6L308.5,626.4" fill="none" stroke="#000" stroke-width="1.45"/>
<path d="M301.6,631.5H208.2" stroke="#555" stroke-width="1.15" stroke-dasharray="1.9,2.07"/>
<path d="M202.5,631.5L206.3,629.45L206.3,633.55Z" fill="#000"/><path d="M205.92,631.5H208.1" stroke="#333" stroke-width="1.1"/>
<path d="M307.1,631.5L303.3,629.45L303.3,633.55Z" fill="#000"/><path d="M303.68,631.5H301.5" stroke="#333" stroke-width="1.1"/>
<text x="176.87" y="538.8" font-size="12">0</text><text x="183.54" y="538.8" font-size="12">.</text><text x="186.88" y="538.8" font-size="12">2</text>
<text x="187.09" y="644.5" font-size="12">0</text>
<text x="196.54" y="659.2" font-size="12">0</text>
<path d="M309.84,659.6L309.84,651.09L309,651.09L308.58,651.92L307.92,652.34L307.08,652.44L307.08,653.24L308.6,653.24L308.6,659.6Z" fill="#1a1a1a"/>
<text transform="translate(170.3,587.1) rotate(-90)" font-size="12" text-anchor="middle">β(<tspan font-style="italic">x</tspan>)</text>
<text x="254.5" y="663.5" font-size="12" text-anchor="middle">Fraction of</text>
<text x="254.5" y="677.6" font-size="12" text-anchor="middle">producers</text>
<path d="M388.11,536.1V641.9M397.94,536.1V641.9M404.91,536.1V641.9M410.32,536.1V641.9M414.74,536.1V641.9M418.48,536.1V641.9M421.72,536.1V641.9M424.58,536.1V641.9M427.13,536.1V641.9M443.94,536.1V641.9M453.77,536.1V641.9M460.74,536.1V641.9M466.15,536.1V641.9M470.57,536.1V641.9M474.31,536.1V641.9M477.55,536.1V641.9M480.41,536.1V641.9M482.96,536.1V641.9M499.77,536.1V641.9M509.6,536.1V641.9M516.57,536.1V641.9M521.98,536.1V641.9M526.4,536.1V641.9M530.14,536.1V641.9M533.38,536.1V641.9M536.24,536.1V641.9M538.79,536.1V641.9M369.5,615.95H541M369.5,589H541M369.5,562.05H541" stroke="#cfcfcf" stroke-width="0.7" stroke-dasharray="0.9,1.5" fill="none"/>
<clipPath id="c3D"><rect x="369.1" y="536.1" width="172.8" height="105.8"/></clipPath><g clip-path="url(#c3D)">
<path d="M371.3,637.6L406.1,637.8L430.5,638.3L453.6,639.4L485.1,641.9L496.8,642.5L510.7,642.9L538.8,642.9" fill="none" stroke="#111" stroke-width="1.3"/>
<path d="M371.3,632.3L407.4,632.7L420.8,633.2L432.6,633.8L444.3,634.7L455.3,635.9L465.3,637.4L486.3,640.8L497.2,642.1L503.9,642.6L511.1,642.8L538.8,642.9" fill="none" stroke="#111" stroke-width="1.3"/>
<path d="M371.3,626.9L393.1,627.2L409.9,627.6L423.8,628.3L435.5,629.2L446.9,630.5L457.8,632.4L467.4,634.5L487.6,639.8L493,640.9L498.5,641.8L504.8,642.4L511.9,642.8L538.8,642.9" fill="none" stroke="#111" stroke-width="1.3"/>
<path d="M371.3,621.5L394.8,621.8L412.9,622.4L427.1,623.2L439.3,624.5L450.6,626.3L461.1,628.8L470.4,631.7L489.7,638.8L494.7,640.3L499.8,641.4L505.6,642.3L512.3,642.7L538.8,642.9" fill="none" stroke="#111" stroke-width="1.3"/>
<path d="M371.3,616.1L398.6,616.4L418.3,617L433.4,618L445.6,619.5L451.1,620.5L456.5,621.8L461.6,623.3L466.2,624.9L474.6,628.6L492.2,637.7L496.8,639.6L501.4,641L506.9,642.1L513.6,642.7L521.2,642.9L538.8,642.9" fill="none" stroke="#111" stroke-width="1.3"/>
<path d="M371.3,610.6L409.1,610.8L432.2,611.3L448.1,612.3L454.4,613L459.9,613.9L464.9,615L469.1,616.3L472.9,617.9L476.7,619.8L480,622L483.4,624.5L493.5,633L497.2,636L501.4,638.6L505.6,640.6L510.2,641.9L516.1,642.6L523.3,642.9L538.8,642.9" fill="none" stroke="#111" stroke-width="1.3"/>
<path d="M371.3,605.1L405.7,604.7L417.5,604.3L427.1,603.8L435.1,603L441.4,602.1L446.9,600.9L451.1,599.4L454.8,597.4L457.8,595.2L460.3,592.4L462.8,588.3L464.5,584.6L466.2,579.6L470.8,561.1L472,556.7L473.3,553.1L475,549.5L476.7,546.8L478.8,544.3L480.9,542.5L484.2,540.4L488.4,538.7L493.5,537.4L499.8,536.4L506.5,535.7L514.4,535.3L538.8,535.1" fill="none" stroke="#111" stroke-width="1.3"/>
<path d="M371.3,599.4L397.3,598.6L407,598L415,597.2L421.7,596.1L427.5,594.8L432.6,593.1L436.8,591.2L439.7,589.3L442.7,587L445.2,584.3L447.7,581L449.4,578.2L451.5,574.3L459,557.5L461.1,553.8L463.7,550.2L466.6,547L469.5,544.6L472.9,542.5L477.1,540.6L481.7,539L487.2,537.7L493,536.8L499.8,536L506.9,535.5L514.9,535.3L538.8,535.1" fill="none" stroke="#111" stroke-width="1.3"/>
<path d="M371.3,593.7L391.4,592.7L399.4,592L406.1,591.1L412,590L417.5,588.6L422.1,587L426.3,585.1L429.2,583.5L432.2,581.4L435.1,578.8L437.6,576.2L441.8,570.9L451.5,556.6L454,553.4L456.9,550.3L460.3,547.4L464.1,544.8L468.3,542.6L472.9,540.8L477.9,539.2L483.8,537.9L490.5,536.9L497.7,536.1L505.2,535.6L513.6,535.3L538.8,535.1" fill="none" stroke="#111" stroke-width="1.3"/>
<path d="M371.3,587.9L387.3,586.8L394,586.1L399.8,585.2L405.3,584.1L410.3,582.8L414.5,581.4L418.7,579.6L424.6,576.3L427.5,574.2L430.5,571.8L435.1,567.3L446,555.6L449.4,552.4L452.7,549.7L456.5,547.1L460.7,544.7L465.3,542.6L470.4,540.8L476.2,539.2L482.5,537.9L489.3,536.9L496.8,536.1L504.4,535.6L513.2,535.3L538.8,535.1" fill="none" stroke="#111" stroke-width="1.3"/>
<path d="M371.3,582.2L384.7,581L395.6,579.5L404.9,577.3L409.1,576L413.3,574.4L419.2,571.5L425,567.9L430.1,564.1L442.7,553.9L446.4,551.2L450.2,548.7L454.8,546.1L459.5,544L464.5,542.1L469.5,540.5L475.4,539L482.1,537.8L489.3,536.8L496.8,536L513.2,535.3L538.8,535.1" fill="none" stroke="#111" stroke-width="1.3"/>
<path d="M371.3,576.5L382.6,575.4L392.7,573.9L401.5,572L409.5,569.5L415.4,567L421.7,563.8L427.1,560.6L441,551.9L449.4,547.4L454,545.3L459,543.3L464.1,541.6L469.5,540.1L475.8,538.7L482.5,537.6L489.7,536.7L497.7,535.9L513.6,535.2L538.8,535.1" fill="none" stroke="#111" stroke-width="1.3"/>
<path d="M371.3,571L381.8,570L391,568.6L399.4,566.9L407.4,564.7L413.7,562.5L420,559.9L441,549.7L450.2,545.7L460.3,542.2L471.2,539.4L477.5,538.2L484.2,537.2L491.4,536.4L498.9,535.8L514.4,535.2L538.8,535.1" fill="none" stroke="#111" stroke-width="1.3"/>
<path d="M371.3,565.6L381.4,564.7L390.6,563.6L399,562.1L407,560.2L413.3,558.4L420,556.2L442.2,547.6L451.9,544.2L462.4,541.2L473.3,538.8L486.3,536.9L500.2,535.7L515.3,535.2L538.8,535.1" fill="none" stroke="#111" stroke-width="1.3"/>
<path d="M371.3,560.5L381.8,559.7L391,558.7L399.8,557.4L408.2,555.8L422.1,552.4L445.6,545.2L455.3,542.5L466.2,539.9L476.7,538.1L488.8,536.6L502.3,535.6L516.5,535.2L538.8,535.1" fill="none" stroke="#111" stroke-width="1.3"/>
<path d="M371.3,555.5L382.2,554.9L392.3,554.1L401.5,553L410.8,551.7L425.5,548.8L450.2,542.9L459.9,540.8L470.4,538.9L480.9,537.3L492.6,536.2L504.8,535.5L517.8,535.2L538.8,535.1" fill="none" stroke="#111" stroke-width="1.3"/>
<path d="M371.3,550.5L394.8,549.5L404.9,548.7L414.5,547.6L430.9,545.3L466.6,539.1L476.7,537.7L486.3,536.6L496.8,535.8L507.7,535.4L538.8,535.1" fill="none" stroke="#111" stroke-width="1.3"/>
<path d="M371.3,545.5L398.6,544.8L420.8,543.5L438.5,541.8L475,537.5L493,536L511.5,535.2L538.8,535.1" fill="none" stroke="#111" stroke-width="1.3"/>
<path d="M371.3,540.4L400.7,540.1L423.4,539.6L445.6,538.7L481.7,536.4L496.4,535.6L513.6,535.2L538.8,535.1" fill="none" stroke="#111" stroke-width="1.3"/>
</g>
<rect x="368.5" y="535.5" width="174" height="107" fill="none" stroke="#1c1c1c" stroke-width="1.2"/>
<path d="M358.14,538.3L358.14,529.79L357.3,529.79L356.88,530.62L356.22,531.04L355.38,531.14L355.38,531.94L356.9,531.94L356.9,538.3Z" fill="#1a1a1a"/>
<text x="353.54" y="645.85" font-size="12">0</text>
<path d="M368.84,659.2L368.84,650.69L368,650.69L367.58,651.52L366.92,651.94L366.08,652.04L366.08,652.84L367.6,652.84L367.6,659.2Z" fill="#1a1a1a"/>
<path d="M422.37,659.2L422.37,650.69L421.53,650.69L421.11,651.52L420.45,651.94L419.61,652.04L419.61,652.84L421.14,652.84L421.14,659.2Z" fill="#1a1a1a"/><text x="425.15" y="659.2" font-size="12">0</text>
<path d="M476.34,659.2L476.34,650.69L475.5,650.69L475.08,651.52L474.42,651.94L473.58,652.04L473.58,652.84L475.1,652.84L475.1,659.2Z" fill="#1a1a1a"/><text x="479.11" y="659.2" font-size="12">0</text><text x="485.78" y="659.2" font-size="12">0</text>
<path d="M531,659.2L531,650.69L530.16,650.69L529.74,651.52L529.08,651.94L528.24,652.04L528.24,652.84L529.77,652.84L529.77,659.2Z" fill="#1a1a1a"/><text x="533.77" y="659.2" font-size="12">0</text><text x="540.45" y="659.2" font-size="12">0</text><text x="547.12" y="659.2" font-size="12">0</text>
<text transform="translate(341.2,588.4) rotate(-90)" font-size="12" text-anchor="middle">Fraction of</text>
<text transform="translate(355.5,588.4) rotate(-90)" font-size="12" text-anchor="middle">producers</text>
<text x="458.6" y="677.8" font-size="12" text-anchor="middle">Generations</text>
<text x="-1.2" y="713" font-size="17.5" font-weight="bold" fill="#000">E</text>
<rect x="31.5" y="710.5" width="109" height="109" fill="none" stroke="#1c1c1c" stroke-width="1.2"/>
<path d="M31.5,818.5L49.3,800.3L62.3,786.5L74.7,772.5L100.6,742.5L107.4,735L113,729.1L120.6,722.1L127.4,716.7L130.6,714.6L133.6,712.9L136.5,711.6L139.5,710.5" fill="none" stroke="#000" stroke-width="2"/>
<path d="M23.94,712.55L23.94,704.04L23.1,704.04L22.68,704.87L22.02,705.29L21.18,705.39L21.18,706.19L22.7,706.19L22.7,712.55Z" fill="#1a1a1a"/>
<text x="19.64" y="822.75" font-size="12">0</text>
<text x="28.24" y="836.4" font-size="12">0</text>
<path d="M141.44,836.8L141.44,828.29L140.6,828.29L140.18,829.12L139.52,829.54L138.68,829.64L138.68,830.44L140.2,830.44L140.2,836.8Z" fill="#1a1a1a"/>
<text transform="translate(23.8,764.7) rotate(-90)" font-size="12" text-anchor="middle">Benefit</text>
<text x="86" y="836.1" font-size="12" text-anchor="middle">Fraction of</text>
<text x="86" y="849.8" font-size="12" text-anchor="middle">producers</text>
<rect x="199.5" y="709.5" width="109" height="109" fill="none" stroke="#1c1c1c" stroke-width="1.2"/>
<path d="M200.8,762.3L206.2,760.8L212,759.5L217.9,758.6L223.8,758.1L229.7,757.9L236.1,758.1L242,758.6L248.4,759.5L254.8,760.7L261.3,762.2L268.2,764.2L275.2,766.4L282.7,769.1L290.1,772L307.8,779.8" fill="none" stroke="#000" stroke-width="1.45"/>
<path d="M300.6,796.5H202.1" stroke="#555" stroke-width="1.15" stroke-dasharray="1.9,2.07"/>
<path d="M306,796.5L302.2,794.45L302.2,798.55Z" fill="#000"/><path d="M302.58,796.5H300.4" stroke="#333" stroke-width="1.1"/>
<text x="176.87" y="712.9" font-size="12">0</text><text x="183.54" y="712.9" font-size="12">.</text><text x="186.88" y="712.9" font-size="12">2</text>
<text x="187.09" y="822.45" font-size="12">0</text>
<text x="195.84" y="836.2" font-size="12">0</text>
<path d="M309.14,836.6L309.14,828.09L308.3,828.09L307.88,828.92L307.22,829.34L306.38,829.44L306.38,830.24L307.9,830.24L307.9,836.6Z" fill="#1a1a1a"/>
<text transform="translate(170.3,763.7) rotate(-90)" font-size="12" text-anchor="middle">β(<tspan font-style="italic">x</tspan>)</text>
<text x="254.5" y="836.1" font-size="12" text-anchor="middle">Fraction of</text>
<text x="254.5" y="849.8" font-size="12" text-anchor="middle">producers</text>
<path d="M387.31,712.7V818.1M397.14,712.7V818.1M404.11,712.7V818.1M409.52,712.7V818.1M413.94,712.7V818.1M417.68,712.7V818.1M420.92,712.7V818.1M423.78,712.7V818.1M426.33,712.7V818.1M443.14,712.7V818.1M452.97,712.7V818.1M459.94,712.7V818.1M465.35,712.7V818.1M469.77,712.7V818.1M473.51,712.7V818.1M476.75,712.7V818.1M479.61,712.7V818.1M482.16,712.7V818.1M498.97,712.7V818.1M508.8,712.7V818.1M515.77,712.7V818.1M521.18,712.7V818.1M525.6,712.7V818.1M529.34,712.7V818.1M532.58,712.7V818.1M535.44,712.7V818.1M537.99,712.7V818.1M368.7,792.25H540.5M368.7,765.4H540.5M368.7,738.55H540.5" stroke="#cfcfcf" stroke-width="0.7" stroke-dasharray="0.9,1.5" fill="none"/>
<clipPath id="c3E"><rect x="368.1" y="712.1" width="172.8" height="106.8"/></clipPath><g clip-path="url(#c3E)">
<path d="M370.5,813.5L390.2,813.3L405.3,812.9L417.5,812.3L427.2,811.4L435.6,810.2L442.3,808.6L447.7,806.7L452.8,804.1L457,801.1L460.8,797.2L464.1,792.7L467.5,786.7L470,781.1L472.9,773.3L481.7,745.9L485.5,735.6L487.6,730.8L490.1,726L492.2,722.8L494.8,719.7L497.7,717L500.6,715L504,713.6L507.8,712.6L511.5,712.1L516.6,711.8L538,711.7" fill="none" stroke="#111" stroke-width="1.3"/>
<path d="M370.5,808L386.5,807.6L399,807.1L410,806.3L418.8,805.3L426.3,804L433,802.3L438.9,800.2L444,797.7L448.6,794.6L452.8,790.9L456.6,786.6L460.3,781L463.3,775.9L466.6,769L477.1,743.8L481.7,733.9L484.3,729.3L486.8,725.4L489.3,722.2L492.2,719.2L495.2,716.8L498.5,714.9L502.3,713.5L506.5,712.5L510.7,712L515.7,711.8L538,711.7" fill="none" stroke="#111" stroke-width="1.3"/>
<path d="M370.5,802.4L383.9,802L395.3,801.4L404.9,800.6L413.3,799.6L420.9,798.2L427.2,796.6L433,794.5L438.1,792.1L442.7,789.3L447.3,785.7L451.5,781.4L455.7,776.2L459.1,771.1L462.9,764.6L474.6,741.2L479.6,732.1L482.6,727.7L485.1,724.4L487.6,721.6L490.6,718.9L493.9,716.5L497.3,714.8L501,713.4L505.7,712.5L509.9,712L515.3,711.8L538,711.7" fill="none" stroke="#111" stroke-width="1.3"/>
<path d="M370.5,796.9L382.7,796.5L393.2,795.8L402,795L410,793.9L416.7,792.7L423,791.1L428.8,789L433.9,786.8L438.9,783.9L443.5,780.5L448.2,776.3L452.4,771.6L456.1,766.6L459.9,760.9L472.9,738.7L478,730.9L480.9,727L483.8,723.6L486.8,720.7L489.7,718.4L493.1,716.2L496.9,714.5L500.6,713.3L505.2,712.4L509.4,712L514.9,711.8L538,711.7" fill="none" stroke="#111" stroke-width="1.3"/>
<path d="M370.5,791.4L391.1,790.3L399.5,789.5L407,788.5L413.7,787.2L420,785.6L425.5,783.8L430.5,781.7L435.6,779L440.6,775.6L445.2,771.8L449.8,767.2L453.6,762.8L457.8,757.2L471.2,737.2L476.7,729.8L480.1,725.8L483,722.8L485.9,720.2L488.9,718L492.7,715.9L496.4,714.3L500.2,713.2L504.8,712.4L509,712L514.5,711.8L538,711.7" fill="none" stroke="#111" stroke-width="1.3"/>
<path d="M370.5,786L382.7,785.4L392.7,784.6L401.6,783.6L409.5,782.2L416.7,780.6L423,778.6L428.8,776.2L434.3,773.4L438.5,770.8L442.7,767.6L446.9,763.9L451.1,759.6L457.8,751.7L472.1,732.9L475.4,728.9L478.8,725.3L482.2,722.2L485.5,719.5L488.9,717.3L492.2,715.6L495.6,714.3L499,713.3L502.7,712.6L506.5,712.1L515.7,711.7L538,711.7" fill="none" stroke="#111" stroke-width="1.3"/>
<path d="M370.5,780.5L381.8,780L391.5,779.2L400.3,778.2L407.9,776.9L415,775.3L421.3,773.4L427.2,771.2L432.6,768.5L436.8,766.1L441,763.2L445.2,759.8L449.4,756L456.6,748.5L471.7,730.9L478.4,724.2L481.7,721.3L485.1,718.9L488.5,717L491.8,715.4L495.2,714.1L498.5,713.2L502.3,712.6L506.5,712.1L515.7,711.7L538,711.7" fill="none" stroke="#111" stroke-width="1.3"/>
<path d="M370.5,775.1L381.4,774.6L390.6,773.8L399,772.9L406.6,771.7L413.3,770.2L419.6,768.5L425.5,766.4L430.9,764L435.6,761.5L439.8,758.8L444,755.8L448.2,752.4L455.7,745.3L470.8,729.6L478,723.2L481.3,720.7L484.7,718.5L488,716.6L491.8,715L495.2,713.9L498.5,713.1L502.3,712.5L506.5,712.1L515.7,711.7L538,711.7" fill="none" stroke="#111" stroke-width="1.3"/>
<path d="M370.5,769.8L381,769.2L390.2,768.5L398.2,767.6L405.8,766.5L412.5,765.1L418.8,763.4L424.7,761.5L430.1,759.2L434.7,756.9L438.9,754.5L443.1,751.8L447.3,748.7L454.9,742.4L470.4,728.1L477.5,722.3L481.3,719.8L484.7,717.8L488,716.2L491.4,714.9L494.8,713.8L498.1,713.1L501.9,712.5L506.1,712.1L515.3,711.7L538,711.7" fill="none" stroke="#111" stroke-width="1.3"/>
<path d="M370.5,764.4L389.8,763.2L397.8,762.4L404.9,761.3L411.6,760.1L417.9,758.5L423.8,756.7L429.3,754.7L433.9,752.6L438.1,750.5L442.3,748L446.9,745L454.5,739.4L470.4,726.4L477.5,721.3L481.3,719L484.7,717.2L488,715.8L491.4,714.6L494.8,713.6L498.5,712.9L506.5,712L515.7,711.7L538,711.7" fill="none" stroke="#111" stroke-width="1.3"/>
<path d="M370.5,759.1L389.4,758L397.4,757.2L404.5,756.2L411.2,755.1L417.1,753.8L423,752.2L428.4,750.3L433,748.5L437.7,746.4L446.5,741.5L454.5,736.2L470.4,724.8L477.5,720.3L484.7,716.7L491.4,714.3L498.5,712.8L506.5,712L515.7,711.7L538,711.7" fill="none" stroke="#111" stroke-width="1.3"/>
<path d="M370.5,753.8L389,752.8L404.1,751.2L410.8,750.2L417.1,748.9L423,747.5L428.4,745.8L437.7,742.3L446.5,738L454.5,733.3L470.4,723.3L477.5,719.3L484.7,716.2L491.4,714L498.5,712.7L506.5,711.9L515.7,711.7L538,711.7" fill="none" stroke="#111" stroke-width="1.3"/>
<path d="M370.5,748.5L389,747.6L403.7,746.3L416.7,744.2L422.6,743L428,741.5L437.2,738.5L446.1,734.8L454,730.8L470.8,721.7L478,718.3L485.1,715.5L491.8,713.7L498.5,712.5L506.5,711.9L515.7,711.7L538,711.7" fill="none" stroke="#111" stroke-width="1.3"/>
<path d="M370.5,743.2L389,742.5L403.7,741.3L416.7,739.5L428,737.2L437.2,734.6L446.5,731.3L454.5,727.9L471.2,720.2L478.4,717.3L485.5,714.9L492.2,713.4L499,712.4L506.9,711.9L538,711.7" fill="none" stroke="#111" stroke-width="1.3"/>
<path d="M370.5,738L389,737.3L404.1,736.3L417.1,734.9L428.4,732.9L437.7,730.7L446.9,728L454.9,725.2L471.7,718.8L479.2,716.2L485.9,714.4L492.7,713.1L499.4,712.3L506.9,711.9L538,711.7" fill="none" stroke="#111" stroke-width="1.3"/>
<path d="M370.5,732.7L389,732.2L404.1,731.4L417.1,730.3L428.8,728.7L438.1,726.9L447.3,724.7L455.7,722.4L472.5,717.2L479.6,715.3L486.4,713.8L493.1,712.8L499.8,712.1L507.3,711.8L538,711.7" fill="none" stroke="#111" stroke-width="1.3"/>
<path d="M370.5,727.5L389.4,727.1L404.5,726.5L417.5,725.6L429.3,724.4L438.9,723.1L448.2,721.4L480.5,714.4L487.2,713.3L493.5,712.5L500.2,712L507.8,711.8L538,711.7" fill="none" stroke="#111" stroke-width="1.3"/>
<path d="M370.5,722.2L404.9,721.6L418.4,721L430.1,720.2L439.8,719.3L449.4,718.2L481.7,713.4L494.3,712.2L508.2,711.8L538,711.7" fill="none" stroke="#111" stroke-width="1.3"/>
<path d="M370.5,717L405.8,716.7L431.4,716L450.7,714.9L482.6,712.5L495.2,712L508.6,711.7L538,711.7" fill="none" stroke="#111" stroke-width="1.3"/>
</g>
<rect x="367.5" y="711.5" width="174" height="108" fill="none" stroke="#1c1c1c" stroke-width="1.2"/>
<path d="M358.14,714.55L358.14,706.04L357.3,706.04L356.88,706.87L356.22,707.29L355.38,707.39L355.38,708.19L356.9,708.19L356.9,714.55Z" fill="#1a1a1a"/>
<text x="353.54" y="821.8" font-size="12">0</text>
<path d="M368.84,836.2L368.84,827.69L368,827.69L367.58,828.52L366.92,828.94L366.08,829.04L366.08,829.84L367.6,829.84L367.6,836.2Z" fill="#1a1a1a"/>
<path d="M422.37,836.2L422.37,827.69L421.53,827.69L421.11,828.52L420.45,828.94L419.61,829.04L419.61,829.84L421.14,829.84L421.14,836.2Z" fill="#1a1a1a"/><text x="425.15" y="836.2" font-size="12">0</text>
<path d="M476.34,836.2L476.34,827.69L475.5,827.69L475.08,828.52L474.42,828.94L473.58,829.04L473.58,829.84L475.1,829.84L475.1,836.2Z" fill="#1a1a1a"/><text x="479.11" y="836.2" font-size="12">0</text><text x="485.78" y="836.2" font-size="12">0</text>
<path d="M531,836.2L531,827.69L530.16,827.69L529.74,828.52L529.08,828.94L528.24,829.04L528.24,829.84L529.77,829.84L529.77,836.2Z" fill="#1a1a1a"/><text x="533.77" y="836.2" font-size="12">0</text><text x="540.45" y="836.2" font-size="12">0</text><text x="547.12" y="836.2" font-size="12">0</text>
<text transform="translate(341.2,764.8) rotate(-90)" font-size="12" text-anchor="middle">Fraction of</text>
<text transform="translate(355.5,764.8) rotate(-90)" font-size="12" text-anchor="middle">producers</text>
<text x="458.6" y="856" font-size="12" text-anchor="middle">Generations</text>
</svg>
</body></html>
